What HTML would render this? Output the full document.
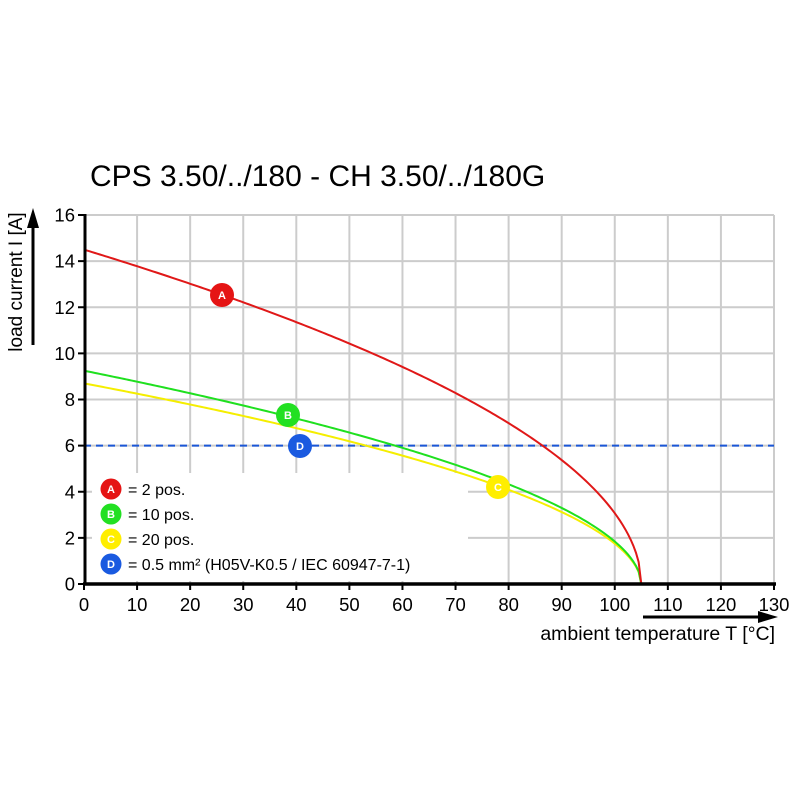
<!DOCTYPE html>
<html><head><meta charset="utf-8"><style>
html,body{margin:0;padding:0;background:#fff;}
svg{display:block;font-family:"Liberation Sans",Arial,sans-serif;}
</style></head><body>
<svg id="s" width="800" height="800" viewBox="0 0 800 800" xmlns="http://www.w3.org/2000/svg">
<rect width="800" height="800" fill="#fff"/>
<text x="90" y="186" font-size="30" fill="#000">CPS 3.50/../180 - CH 3.50/../180G</text>
<g id="grid" stroke="#cccccc" stroke-width="2"></g>
<rect x="92" y="473" width="376" height="108" fill="#fff"/>
<line x1="84" y1="445.6" x2="774" y2="445.6" stroke="#1a56d6" stroke-width="2" stroke-dasharray="7,5"/>
<g id="curves" fill="none" stroke-width="2"></g>
<line x1="85" y1="214" x2="85" y2="585" stroke="#000" stroke-width="3"/>
<line x1="83" y1="584" x2="776" y2="584" stroke="#000" stroke-width="3.5"/>
<g id="ticks" stroke="#000" stroke-width="2"></g>
<g id="lbl" font-size="18.5" fill="#000"></g>
<line x1="33" y1="345" x2="33" y2="225" stroke="#000" stroke-width="3"/>
<polygon points="33,208 27,228 39,228" fill="#000"/>
<text transform="translate(22,282) rotate(-90)" text-anchor="middle" font-size="19">load current I [A]</text>
<line x1="643" y1="617" x2="760" y2="617" stroke="#000" stroke-width="3"/>
<polygon points="778,617 758,611 758,623" fill="#000"/>
<text x="775" y="640" text-anchor="end" font-size="19.5">ambient temperature T [°C]</text>
<g id="marks" font-size="11" font-weight="bold" text-anchor="middle" fill="#fff"></g>
<g font-size="16" fill="#000">
<text x="128" y="495">= 2 pos.</text>
<text x="128" y="520">= 10 pos.</text>
<text x="128" y="545">= 20 pos.</text>
<text x="128" y="570">= 0.5 mm² (H05V-K0.5 / IEC 60947-7-1)</text>
</g>
</svg>
<script>
var NS="http://www.w3.org/2000/svg";
function X(t){return 84+t*690/130;}
function Y(i){return 584-i*369/16;}
function el(p,n,a,txt){var e=document.createElementNS(NS,n);for(var k in a)e.setAttribute(k,a[k]);if(txt!=null)e.textContent=txt;document.getElementById(p).appendChild(e);return e;}
for(var t=10;t<=130;t+=10)el("grid","line",{x1:X(t),y1:215,x2:X(t),y2:584});
for(var i=2;i<=16;i+=2)el("grid","line",{x1:84,y1:Y(i),x2:774,y2:Y(i)});
for(var t=0;t<=130;t+=10){el("ticks","line",{x1:X(t),y1:584,x2:X(t),y2:590});el("lbl","text",{x:X(t),y:611,"text-anchor":"middle"},t);}
for(var i=0;i<=16;i+=2){el("ticks","line",{x1:78,y1:Y(i),x2:85,y2:Y(i)});el("lbl","text",{x:75,y:Y(i)+6.5,"text-anchor":"end"},i);}
function curve(I0,p,c){var d="";for(var k=0;k<=210;k++){var t=k*0.5;var v=I0*Math.pow((105-t)/105,p);d+=(k?"L":"M")+X(t).toFixed(2)+","+Y(v).toFixed(2);}el("curves","path",{d:d,stroke:c});}
curve(8.7,0.527,"#f5ee00");
curve(9.25,0.53,"#1fe01f");
curve(14.5,0.51,"#e01818");
function mk(x,y,c,l,r){el("marks","circle",{cx:x,cy:y,r:r,fill:c});el("marks","text",{x:x,y:y+4},l);}
mk(222,295,"#e51414","A",12);mk(288,415,"#22e022","B",12);mk(498,487,"#ffee00","C",12);mk(300,446,"#1a5ae0","D",12);
mk(111,489,"#e51414","A",10.5);mk(111,514,"#22e022","B",10.5);mk(111,539,"#ffee00","C",10.5);mk(111,564,"#1a5ae0","D",10.5);
</script>
</body></html>
